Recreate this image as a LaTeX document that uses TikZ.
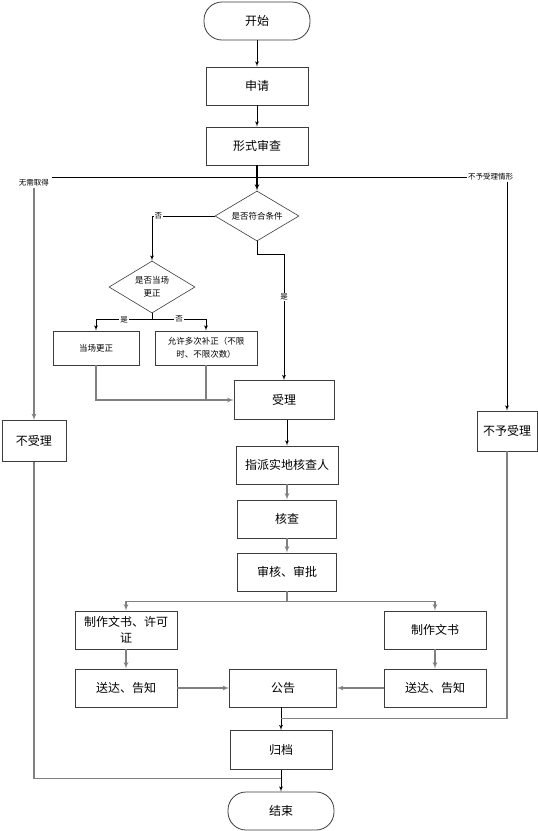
\documentclass[tikz,border=0pt]{standalone}
\usepackage{fontspec}
\setmainfont{Noto Sans CJK SC}
\usepackage{tikz}
\usetikzlibrary{shapes.geometric, arrows, positioning, calc}
\definecolor{BoxEdge}{HTML}{3C3C3C}
\definecolor{LineGrey}{HTML}{808080}

\begin{document}
\begin{tikzpicture}[x=1pt, y=-1pt, >=latex']
    \tikzstyle{block} = [rectangle, draw=BoxEdge, fill=white, line width=0.8pt, align=center, minimum width=102pt, minimum height=38pt, inner sep=2pt, font=\fontsize{12}{16}\selectfont]
    \tikzstyle{smallblock} = [block, minimum width=102pt, minimum height=34pt, font=\fontsize{8.5}{13}\selectfont]
    \tikzstyle{term} = [rectangle, draw=BoxEdge, fill=white, line width=0.8pt, rounded corners=18pt, minimum width=106pt, minimum height=38pt, font=\fontsize{12}{16}\selectfont]
    \tikzstyle{decision} = [diamond, draw=BoxEdge, fill=white, line width=0.6pt, aspect=1.7, inner sep=0pt, minimum width=84pt, minimum height=50pt, align=center, font=\fontsize{8.5}{13}\selectfont]
    \tikzstyle{tag} = [inner sep=1pt, font=\fontsize{7.5}{9}\selectfont]
    \tikzstyle{line} = [draw, ->, line width=0.8pt, black]
    \tikzstyle{greyline} = [draw, ->, line width=1.2pt, LineGrey]

    \useasboundingbox (0,0) rectangle (538,831);

    % main column
    \node [term] (start) at (257,21) {开始};
    \node [block] (apply) at (257,86) {申请};
    \node [block] (formal) at (257,146) {形式审查};
    \node [decision] (cond) at (257,216) {是否符合条件};
    \node [decision, minimum width=86pt, minimum height=52pt] (spot) at (152,287) {是否当场\\更正};
    \node [smallblock, minimum width=86pt] (fix) at (96,348) {当场更正};
    \node [smallblock] (allow) at (206,348) {允许多次补正（不限\\时、不限次数）};
    \node [block, minimum width=100pt, minimum height=39pt] (accept) at (284,400) {受理};
    \node [block, minimum width=64pt, minimum height=41pt] (refuse) at (34,441) {不受理};
    \node [block, minimum width=60pt, minimum height=40pt] (deny) at (507,431) {不予受理};
    \node [block] (assign) at (287,465) {指派实地核查人};
    \node [block, minimum width=99pt] (verify) at (287,519) {核查};
    \node [block, minimum width=99pt] (review) at (287,572) {审核、审批};
    \node [block] (docA) at (126,630) {制作文书、许可\\证};
    \node [block] (docB) at (435,630) {制作文书};
    \node [block] (sendA) at (126,688) {送达、告知};
    \node [block, minimum width=107pt] (notice) at (283,688) {公告};
    \node [block] (sendB) at (435,688) {送达、告知};
    \node [block, minimum width=102pt, minimum height=39pt] (archive) at (281,750) {归档};
    \node [term] (finish) at (281,811) {结束};

    % side labels
    \node [tag] (noneed) at (34,183) {无需取得};
    \node [tag, anchor=west] (denylab) at (467,177) {不予受理情形};
    \coordinate (junction) at (formal.south |- 0,177);

    \path [line] (start) -- (apply);
    \path [line] (apply) -- (formal);
    \path [line, line width=1.2pt] (formal) -- (cond);
    \draw [line width=0.8pt] (junction) -- ($(noneed.east |- junction)+(2,0)$);
    \draw [line width=0.8pt] (junction) -- (junction -| denylab.west);
    \path [greyline] (noneed.south) -- (refuse.north);
    \path [line] (denylab.south -| deny) -- (deny.north);

    % checks
    \path [line] (cond.west) -| node [tag, fill=white, pos=0.45] {否} (spot.north);
    \path [line] (cond.south) -- ++(0,13) -| node [tag, fill=white, pos=0.67] {是} (accept.north);
    \draw [line width=0.8pt] (spot.south) -- ++(0,6) coordinate (split);
    \path [line] (split) -| node [tag, fill=white, pos=0.25] {是} (fix.north);
    \path [line] (split) -| node [tag, fill=white, pos=0.25] {否} (allow.north);
    \path [greyline] (fix.south) |- (accept.west);
    \draw [LineGrey, line width=1.2pt] (allow.south) -- (allow.south |- accept.west);

    % processing
    \path [line] (accept.south -| assign) -- (assign.north);
    \path [greyline] (assign) -- (verify);
    \path [greyline] (verify) -- (review);
    \draw [LineGrey, line width=1.2pt] (review.south) -- ++(0,10) coordinate (fork);
    \path [greyline] (fork) -| (docA.north);
    \path [greyline] (fork) -| (docB.north);
    \path [greyline] (docA) -- (sendA);
    \path [greyline] (docB) -- (sendB);
    \path [greyline] (sendA) -- (notice);
    \path [greyline] (sendB) -- (notice);

    % ending
    \coordinate (merge) at ($(notice.south -| archive)!0.5!(archive.north)$);
    \path [line] (notice.south -| archive) -- (archive.north);
    \draw [LineGrey, line width=1.2pt] (deny.south) |- (merge);
    \coordinate (close) at ($(archive.south)!0.4!(finish.north)$);
    \path [line] (archive) -- (finish);
    \draw [LineGrey, line width=1.2pt] (refuse.south) |- (close);
\end{tikzpicture}
\end{document}
